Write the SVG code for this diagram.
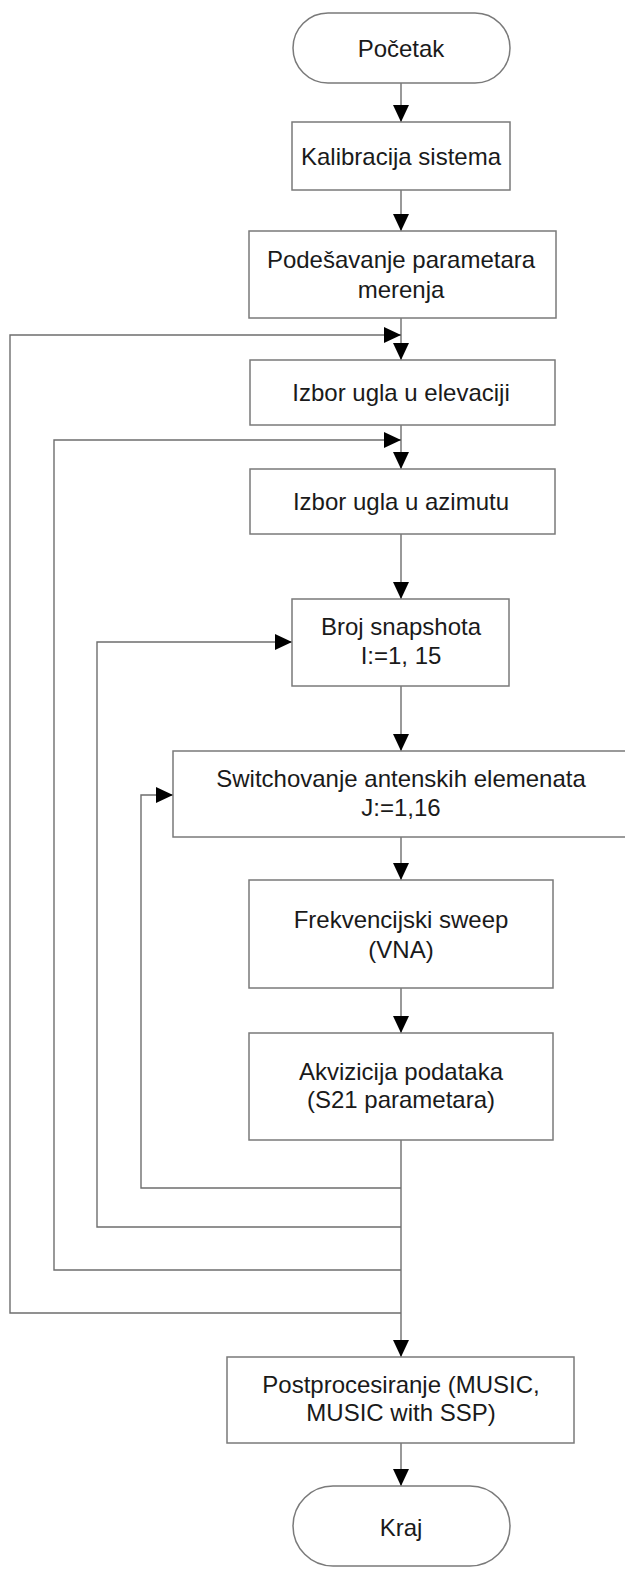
<svg xmlns="http://www.w3.org/2000/svg" width="625" height="1569" viewBox="0 0 625 1569">
  <style>
    .box { fill: #ffffff; stroke: #7a7a7a; stroke-width: 1.5; }
    .wire { fill: none; stroke: #6e6e6e; stroke-width: 1.4; }
    .lbl { font-family: "Liberation Sans", Arial, sans-serif; font-size: 24px; fill: #1a1a1a; text-anchor: middle; }
  </style>
  <defs>
    <marker id="arrow" markerUnits="userSpaceOnUse" markerWidth="17" markerHeight="16" refX="17" refY="8" orient="auto">
      <path d="M0,0 L17,8 L0,16 z" fill="#000000"/>
    </marker>
  </defs>
  <rect width="625" height="1569" fill="#ffffff"/>

  <!-- connectors -->
  <g id="connectors">
    <line class="wire" x1="401" y1="83" x2="401" y2="122" marker-end="url(#arrow)"/>
    <line class="wire" x1="401" y1="190" x2="401" y2="231" marker-end="url(#arrow)"/>
    <line class="wire" x1="401" y1="318" x2="401" y2="360" marker-end="url(#arrow)"/>
    <line class="wire" x1="401" y1="425" x2="401" y2="469" marker-end="url(#arrow)"/>
    <line class="wire" x1="401" y1="534" x2="401" y2="599" marker-end="url(#arrow)"/>
    <line class="wire" x1="401" y1="686" x2="401" y2="751" marker-end="url(#arrow)"/>
    <line class="wire" x1="401" y1="837" x2="401" y2="880" marker-end="url(#arrow)"/>
    <line class="wire" x1="401" y1="988" x2="401" y2="1033" marker-end="url(#arrow)"/>
    <line class="wire" x1="401" y1="1140" x2="401" y2="1357" marker-end="url(#arrow)"/>
    <line class="wire" x1="401" y1="1443" x2="401" y2="1486" marker-end="url(#arrow)"/>
    <!-- loop returns -->
    <polyline class="wire" points="401,1313 10,1313 10,335 401,335" marker-end="url(#arrow)"/>
    <polyline class="wire" points="401,1270 54,1270 54,440 401,440" marker-end="url(#arrow)"/>
    <polyline class="wire" points="401,1227 97,1227 97,642 292,642" marker-end="url(#arrow)"/>
    <polyline class="wire" points="401,1188 141,1188 141,795 173,795" marker-end="url(#arrow)"/>
  </g>

  <g id="start">
    <rect class="box" x="293" y="13" width="217" height="70" rx="35" ry="35"/>
    <text class="lbl" x="401" y="57">Početak</text>
  </g>
  <g id="kalibracija">
    <rect class="box" x="292" y="122" width="218" height="68"/>
    <text class="lbl" x="401" y="165">Kalibracija sistema</text>
  </g>
  <g id="podesavanje">
    <rect class="box" x="249" y="231" width="307" height="87"/>
    <text class="lbl" x="401" y="268">Podešavanje parametara</text>
    <text class="lbl" x="401" y="298">merenja</text>
  </g>
  <g id="elevacija">
    <rect class="box" x="250" y="360" width="305" height="65"/>
    <text class="lbl" x="401" y="401">Izbor ugla u elevaciji</text>
  </g>
  <g id="azimut">
    <rect class="box" x="250" y="469" width="305" height="65"/>
    <text class="lbl" x="401" y="510">Izbor ugla u azimutu</text>
  </g>
  <g id="snapshot">
    <rect class="box" x="292" y="599" width="217" height="87"/>
    <text class="lbl" x="401" y="635">Broj snapshota</text>
    <text class="lbl" x="401" y="664">I:=1, 15</text>
  </g>
  <g id="switchovanje">
    <rect class="box" x="173" y="751" width="456" height="86"/>
    <text class="lbl" x="401" y="787">Switchovanje antenskih elemenata</text>
    <text class="lbl" x="401" y="816">J:=1,16</text>
  </g>
  <g id="sweep">
    <rect class="box" x="249" y="880" width="304" height="108"/>
    <text class="lbl" x="401" y="928">Frekvencijski sweep</text>
    <text class="lbl" x="401" y="958">(VNA)</text>
  </g>
  <g id="akvizicija">
    <rect class="box" x="249" y="1033" width="304" height="107"/>
    <text class="lbl" x="401" y="1080">Akvizicija podataka</text>
    <text class="lbl" x="401" y="1108">(S21 parametara)</text>
  </g>
  <g id="postprocesiranje">
    <rect class="box" x="227" y="1357" width="347" height="86"/>
    <text class="lbl" x="401" y="1393">Postprocesiranje (MUSIC,</text>
    <text class="lbl" x="401" y="1421">MUSIC with SSP)</text>
  </g>
  <g id="kraj">
    <rect class="box" x="293" y="1486" width="217" height="80" rx="40" ry="40"/>
    <text class="lbl" x="401" y="1536">Kraj</text>
  </g>
</svg>
